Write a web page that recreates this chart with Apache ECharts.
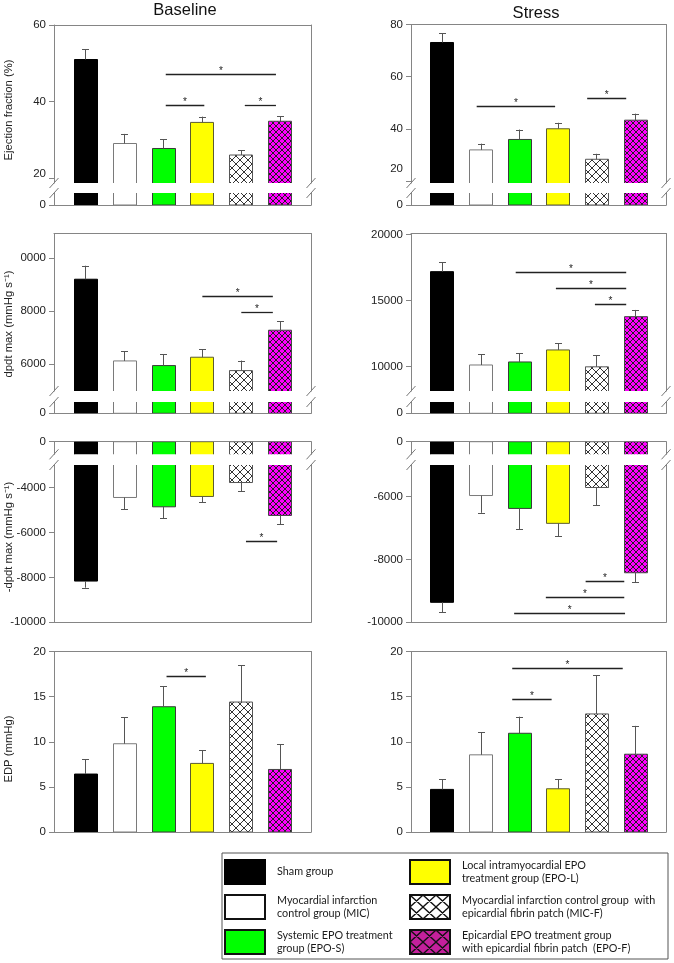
<!DOCTYPE html>
<html><head><meta charset="utf-8">
<script src="https://cdn.jsdelivr.net/npm/echarts@6.0.0/dist/echarts.min.js"></script>
<style>html,body{margin:0;padding:0;background:#fff}#c{width:674px;height:963px}</style>
</head><body><div id="c"></div>
<script>
// ---------------- data ----------------
const groupNames = [
  'Sham group',
  'Myocardial infarction\ncontrol group (MIC)',
  'Systemic EPO treatment\ngroup (EPO-S)',
  'Local intramyocardial EPO\ntreatment group (EPO-L)',
  'Myocardial infarction control group  with\nepicardial fibrin patch (MIC-F)',
  'Epicardial EPO treatment group\nwith epicardial fibrin patch  (EPO-F)'
];
const groupPos = [0, 1, 2, 3, 4, 5];

const efBaseMean = [51.0, 29.1, 27.8, 34.6, 26.1, 34.9];
const efBaseSem = [2.7, 2.5, 2.4, 1.5, 1.2, 1.3];
const efStressMean = [73.1, 31.9, 35.9, 40.0, 28.3, 43.3];
const efStressSem = [3.6, 2.4, 3.8, 2.3, 2.1, 2.5];
const dpBaseMean = [9210, 6125, 5950, 6265, 5760, 7285];
const dpBaseSem = [510, 365, 430, 300, 380, 340];
const dpStressMean = [17200, 10130, 10360, 11270, 9990, 13790];
const dpStressSem = [700, 810, 660, 500, 870, 510];
const dnBaseMean = [-8165, -4445, -4860, -4400, -3780, -5245];
const dnBaseSem = [295, 520, 500, 265, 385, 385];
const dnStressMean = [-9365, -5970, -6380, -6855, -5715, -8425];
const dnStressSem = [320, 550, 665, 405, 570, 305];
const edpBaseMean = [6.42, 9.78, 13.88, 7.60, 14.40, 6.93];
const edpBaseSem = [1.62, 2.91, 2.29, 1.48, 4.10, 2.82];
const edpStressMean = [4.72, 8.55, 10.94, 4.79, 13.08, 8.62];
const edpStressSem = [1.14, 2.50, 1.84, 1.07, 4.27, 3.14];

// significance brackets: [from position, to position, level]
const efBaseSig = [[2.07, 4.90, 47.3], [2.07, 3.06, 39.1], [4.10, 4.90, 39.1]];
const efStressSig = [[0.90, 2.93, 48.6], [3.76, 4.77, 51.8]];
const dpBaseSig = [[3.01, 4.82, 8570], [4.01, 4.82, 7985]];
const dpStressSig = [[1.91, 4.77, 17150], [2.95, 4.77, 15940], [3.96, 4.77, 14750]];
const dnBaseSig = [[4.13, 4.93, -6400]];
const dnStressSig = [[3.72, 4.72, -8700], [2.69, 4.72, -9200], [1.87, 4.74, -9705]];
const edpBaseSig = [[2.09, 3.10, 17.28]];
const edpStressSig = [[1.82, 4.68, 18.13], [1.82, 2.84, 14.76]];

// tick labels
const efBaseTicks = [20, 40, 60];
const efStressTicks = [20, 40, 60, 80];
const zeroTick = [0];
const dpBaseTicks = [6000, 8000, 10000];
const dpBaseTickText = ['6000', '8000', '0000'];
const dpStressTicks = [10000, 15000, 20000];
const dnBaseTicks = [-10000, -8000, -6000, -4000];
const dnStressTicks = [-10000, -8000, -6000];
const edpTicks = [0, 5, 10, 15, 20];

const colTitles = ['Baseline', 'Stress'];
const axisNames = ['Ejection fraction (%)', 'dpdt max (mmHg s\u207B\u00B9)', '-dpdt max (mmHg s\u207B\u00B9)', 'EDP (mmHg)'];

// ---------------- styling / layout ----------------
const COLS = [{left: 54, width: 257}, {left: 411, width: 255}];
const XMIN = -0.8, XMAX = 5.8;
const BAR_W = 23;
const AX = '#858585', TXT = '#222';
const FONT = "'Liberation Sans', Arial, sans-serif";

function hatch(bg, p, lineColor, lw, ph) {
  ph = ph || p;
  const c = document.createElement('canvas');
  c.width = p; c.height = ph;
  const g = c.getContext('2d');
  g.fillStyle = bg; g.fillRect(0, 0, p, ph);
  g.strokeStyle = lineColor; g.lineWidth = lw;
  g.beginPath();
  for (let k = -1; k <= 1; k++) {
    g.moveTo(k * p, 0); g.lineTo(k * p + p, ph);
    g.moveTo(k * p + p, 0); g.lineTo(k * p, ph);
  }
  g.stroke();
  return {image: c, repeat: 'repeat'};
}

const barStyles = [
  {color: '#000000', borderColor: '#000', borderWidth: 1},
  {color: '#ffffff', borderColor: '#7a7a7a', borderWidth: 1},
  {color: '#00ff00', borderColor: '#3a3a3a', borderWidth: 1},
  {color: '#ffff00', borderColor: '#5c5c30', borderWidth: 1},
  {color: hatch('#ffffff', 8, '#333', 1), borderColor: '#555', borderWidth: 1},
  {color: hatch('#ff00ff', 6, '#222', 1), borderColor: '#444', borderWidth: 1}
];
const legendStyles = [
  {color: '#000000', borderColor: '#000', borderWidth: 2},
  {color: '#ffffff', borderColor: '#111', borderWidth: 2},
  {color: '#00ff00', borderColor: '#111', borderWidth: 2},
  {color: '#ffff00', borderColor: '#111', borderWidth: 2},
  {color: hatch('#ffffff', 13, '#111', 1.3, 12), borderColor: '#111', borderWidth: 2},
  {color: hatch('#c4209c', 13, '#111', 1.3, 12), borderColor: '#111', borderWidth: 2}
];

const option = {
  animation: false,
  backgroundColor: '#fff',
  grid: [], xAxis: [], yAxis: [], series: [], graphic: []
};

function addGrid(col, top, bottom, range, o) {
  const gi = option.grid.length;
  option.grid.push({left: COLS[col].left, top: top, width: COLS[col].width, height: bottom - top,
    containLabel: false, outerBoundsMode: 'none'});
  const line = {show: true, onZero: false, lineStyle: {color: AX, width: 1}};
  const hidden = {axisTick: {show: false}, axisLabel: {show: false}, splitLine: {show: false}};
  option.xAxis.push(Object.assign({gridIndex: gi, type: 'value', min: XMIN, max: XMAX, position: 'bottom',
    axisLine: Object.assign({}, line, {show: !!o.bottomLine})}, hidden));
  option.xAxis.push(Object.assign({gridIndex: gi, type: 'value', min: XMIN, max: XMAX, position: 'top',
    axisLine: Object.assign({}, line, {show: !!o.topLine})}, hidden));
  const yi = option.yAxis.length;
  option.yAxis.push({gridIndex: gi, type: 'value', min: range[0], max: range[1], position: 'left',
    axisLine: line,
    axisTick: {show: true, customValues: o.ticks, length: 5, inside: false, lineStyle: {color: AX}},
    axisLabel: {show: true, customValues: o.ticks, formatter: o.fmt || (v => String(v)), margin: 8,
      color: TXT, fontSize: 11.5, fontFamily: FONT, lineHeight: o.lh || 13},
    splitLine: {show: false}});
  option.yAxis.push(Object.assign({gridIndex: gi, type: 'value', min: range[0], max: range[1], position: 'right',
    axisLine: line}, hidden));
  return {x: option.xAxis.length - 2, y: yi};
}

function renderBar(params, api) {
  const x = api.value(0), v = api.value(1);
  const p0 = api.coord([x, 0]), p1 = api.coord([x, v]);
  const left = Math.round(p1[0] - BAR_W / 2) + 0.5;
  return {type: 'rect', shape: {x: left, y: Math.min(p0[1], p1[1]), width: BAR_W, height: Math.abs(p1[1] - p0[1])},
    style: api.style()};
}
function renderErr(params, api) {
  const x = api.value(0), m = api.value(1), s = api.value(2);
  const tip = m >= 0 ? m + s : m - s;
  const a = api.coord([x, m]), b = api.coord([x, tip]);
  const cx = Math.round(a[0]) + 0.5;
  return {type: 'group', children: [
    {type: 'line', shape: {x1: cx, y1: a[1], x2: cx, y2: b[1]}, style: {stroke: '#555', lineWidth: 1}},
    {type: 'line', shape: {x1: cx - 3.5, y1: Math.round(b[1]) + 0.5, x2: cx + 3.5, y2: Math.round(b[1]) + 0.5}, style: {stroke: '#555', lineWidth: 1}}
  ]};
}
function renderSig(params, api) {
  const a = api.coord([api.value(0), api.value(2)]), b = api.coord([api.value(1), api.value(2)]);
  const y = Math.round(a[1]) + 0.5;
  return {type: 'group', children: [
    {type: 'line', shape: {x1: a[0], y1: y, x2: b[0], y2: y}, style: {stroke: '#222', lineWidth: 1.3}},
    {type: 'text', x: (a[0] + b[0]) / 2, y: y - 3, style: {text: '*', fontSize: 10, fontFamily: FONT, fill: '#222',
      align: 'center', verticalAlign: 'middle'}}
  ]};
}

function addBars(ax, mean) {
  for (let i = 0; i < groupNames.length; i++) {
    option.series.push({type: 'custom', name: groupNames[i], xAxisIndex: ax.x, yAxisIndex: ax.y, clip: true,
      silent: true, z: 2, itemStyle: barStyles[i], data: [[groupPos[i], mean[i]]], renderItem: renderBar});
  }
}
function addErr(ax, mean, sem) {
  option.series.push({type: 'custom', name: 'err', xAxisIndex: ax.x, yAxisIndex: ax.y, silent: true, z: 3,
    data: mean.map((m, i) => [groupPos[i], m, sem[i]]), renderItem: renderErr});
}
function addSig(ax, sig) {
  option.series.push({type: 'custom', name: 'sig', xAxisIndex: ax.x, yAxisIndex: ax.y, silent: true, z: 4,
    data: sig, renderItem: renderSig});
}
function addBreak(col, yEnd, yStart) {
  const xs = [COLS[col].left, COLS[col].left + COLS[col].width];
  xs.forEach(x => [yEnd, yStart].forEach(y => {
    option.graphic.push({type: 'line', silent: true, z: 10,
      shape: {x1: x - 4.5, y1: y + 5, x2: x + 4.5, y2: y - 5}, style: {stroke: '#777', lineWidth: 1}});
  }));
}

// ---- Row 1: ejection fraction ----
let ax;
ax = addGrid(0, 25, 183, [18.8, 60], {topLine: true, ticks: efBaseTicks, lh: 9, fmt: v => v === 20 ? '20\n ' : String(v)});
addBars(ax, efBaseMean); addErr(ax, efBaseMean, efBaseSem); addSig(ax, efBaseSig);
ax = addGrid(0, 193, 205, [0, 3], {bottomLine: true, ticks: zeroTick});
addBars(ax, efBaseMean);
ax = addGrid(1, 24.5, 183, [19.2, 80], {topLine: true, ticks: efStressTicks, lh: 12.5, fmt: v => v === 20 ? '20\n\n ' : String(v)});
addBars(ax, efStressMean); addErr(ax, efStressMean, efStressSem); addSig(ax, efStressSig);
ax = addGrid(1, 193, 205, [0, 3], {bottomLine: true, ticks: zeroTick});
addBars(ax, efStressMean);
addBreak(0, 183, 193); addBreak(1, 183, 193);

// ---- Row 2: dp/dt max ----
ax = addGrid(0, 233.5, 391, [4990, 10936], {topLine: true, ticks: dpBaseTicks,
  fmt: v => dpBaseTickText[dpBaseTicks.indexOf(v)]});
addBars(ax, dpBaseMean); addErr(ax, dpBaseMean, dpBaseSem); addSig(ax, dpBaseSig);
ax = addGrid(0, 402, 413.3, [0, 1], {bottomLine: true, ticks: zeroTick});
addBars(ax, dpBaseMean);
ax = addGrid(1, 233.5, 391, [8160, 20090], {topLine: true, ticks: dpStressTicks});
addBars(ax, dpStressMean); addErr(ax, dpStressMean, dpStressSem); addSig(ax, dpStressSig);
ax = addGrid(1, 402, 413.3, [0, 1], {bottomLine: true, ticks: zeroTick});
addBars(ax, dpStressMean);
addBreak(0, 391, 402); addBreak(1, 391, 402);

// ---- Row 3: -dp/dt max ----
ax = addGrid(0, 441.7, 454.3, [-1, 0], {topLine: true, ticks: zeroTick});
addBars(ax, dnBaseMean);
ax = addGrid(0, 465, 622.3, [-10000, -3000], {bottomLine: true, ticks: dnBaseTicks});
addBars(ax, dnBaseMean); addErr(ax, dnBaseMean, dnBaseSem); addSig(ax, dnBaseSig);
ax = addGrid(1, 441.7, 454.3, [-1, 0], {topLine: true, ticks: zeroTick});
addBars(ax, dnStressMean);
ax = addGrid(1, 465, 622.3, [-10000, -5000], {bottomLine: true, ticks: dnStressTicks});
addBars(ax, dnStressMean); addErr(ax, dnStressMean, dnStressSem); addSig(ax, dnStressSig);
addBreak(0, 454.3, 465); addBreak(1, 454.3, 465);

// ---- Row 4: EDP ----
ax = addGrid(0, 651.5, 832, [0, 20], {topLine: true, bottomLine: true, ticks: edpTicks});
addBars(ax, edpBaseMean); addErr(ax, edpBaseMean, edpBaseSem); addSig(ax, edpBaseSig);
ax = addGrid(1, 651.5, 832, [0, 20], {topLine: true, bottomLine: true, ticks: edpTicks});
addBars(ax, edpStressMean); addErr(ax, edpStressMean, edpStressSem); addSig(ax, edpStressSig);

// ---- titles & axis names ----
option.graphic.push({type: 'text', x: 185, y: 10, silent: true,
  style: {text: colTitles[0], fontSize: 16.5, fontFamily: FONT, fill: '#111', align: 'center', verticalAlign: 'middle'}});
option.graphic.push({type: 'text', x: 536, y: 13, silent: true,
  style: {text: colTitles[1], fontSize: 16.5, fontFamily: FONT, fill: '#111', align: 'center', verticalAlign: 'middle'}});
const namePos = [[9, 110], [9, 324], [9, 537], [9, 749]];
axisNames.forEach((n, i) => option.graphic.push({type: 'text', x: namePos[i][0], y: namePos[i][1], rotation: Math.PI / 2, silent: true,
  style: {text: n, fontSize: 11.3, fontFamily: FONT, fill: TXT, align: 'center', verticalAlign: 'middle'}}));

// ---- legend ----
option.legend = {
  orient: 'vertical', left: 222, top: 853, height: 100, padding: [6, 8, 4, 2],
  itemWidth: 40, itemHeight: 24, itemGap: 9, icon: 'rect', selectedMode: false,
  borderColor: '#555', borderWidth: 1,
  textStyle: {fontFamily: 'Lato, sans-serif', fontSize: 10.8, lineHeight: 13, color: '#1a1a1a', padding: [0, 0, 0, 7]},
  data: groupNames.map((n, i) => ({name: n, itemStyle: legendStyles[i], textStyle: {width: i < 3 ? 123 : 198}}))
};

const chart = echarts.init(document.getElementById('c'), null, {renderer: 'canvas'});
chart.setOption(option);
</script>
</body></html>
